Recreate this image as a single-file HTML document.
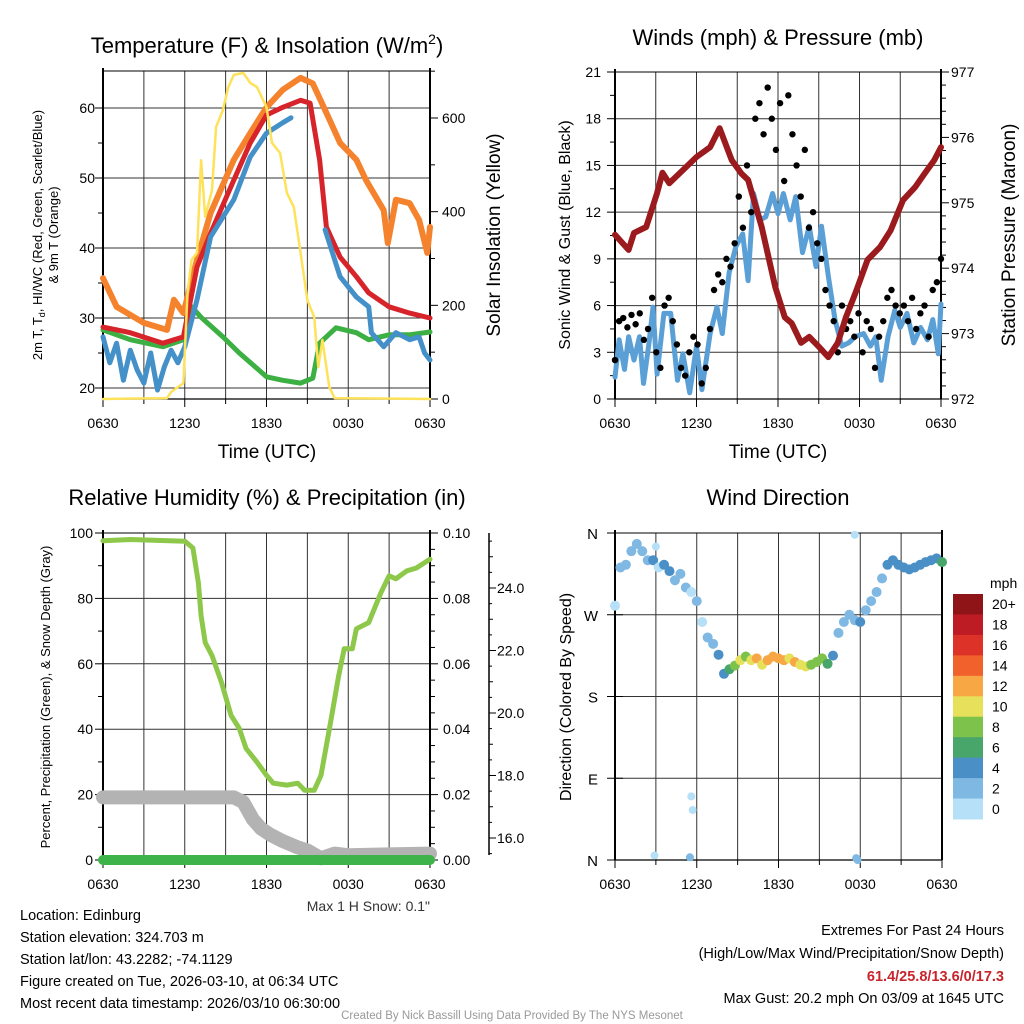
<!DOCTYPE html>
<html><head><meta charset="utf-8"><style>
html,body{margin:0;padding:0;background:#fff}
svg{display:block;font-family:"Liberation Sans",sans-serif}
</style></head><body>
<svg id="c" width="1024" height="1024" viewBox="0 0 1024 1024">
<rect width="1024" height="1024" fill="#fff"/>
<g font-size="22" text-anchor="middle" fill="#000">
<text x="267" y="53">Temperature (F) &amp; Insolation (W/m<tspan font-size="14" dy="-9">2</tspan><tspan dy="9">)</tspan></text>
<text x="778" y="45">Winds (mph) &amp; Pressure (mb)</text>
<text x="267" y="505">Relative Humidity (%) &amp; Precipitation (in)</text>
<text x="778" y="505">Wind Direction</text>
</g>
<g font-size="19" text-anchor="middle">
<text x="267" y="458">Time (UTC)</text>
<text x="778" y="458">Time (UTC)</text>
<text transform="translate(42,235) rotate(-90)" font-size="13">2m T, T<tspan font-size="9" dy="3">d</tspan><tspan dy="-3">, HI/WC (Red, Green, Scarlet/Blue)</tspan></text>
<text transform="translate(58,235) rotate(-90)" font-size="13">&amp; 9m T (Orange)</text>
<text transform="translate(500,235) rotate(-90)">Solar Insolation (Yellow)</text>
<text transform="translate(570,235) rotate(-90)" font-size="16">Sonic Wind &amp; Gust (Blue, Black)</text>
<text transform="translate(1015,235) rotate(-90)">Station Pressure (Maroon)</text>
<text transform="translate(50,697) rotate(-90)" font-size="13">Percent, Precipitation (Green), &amp; Snow Depth (Gray)</text>
<text transform="translate(571,697) rotate(-90)" font-size="16">Direction (Colored By Speed)</text>
</g>
<text x="430" y="911" font-size="14" text-anchor="end" fill="#333">Max 1 H Snow: 0.1"</text>
<g font-size="14.5">
<text x="20" y="920">Location: Edinburg</text>
<text x="20" y="942">Station elevation: 324.703 m</text>
<text x="20" y="964">Station lat/lon: 43.2282; -74.1129</text>
<text x="20" y="986">Figure created on Tue, 2026-03-10, at 06:34 UTC</text>
<text x="20" y="1008">Most recent data timestamp: 2026/03/10 06:30:00</text>
<g text-anchor="end">
<text x="1004" y="935">Extremes For Past 24 Hours</text>
<text x="1004" y="958">(High/Low/Max Wind/Precipitation/Snow Depth)</text>
<text x="1004" y="981" fill="#c8242b" font-weight="bold">61.4/25.8/13.6/0/17.3</text>
<text x="1004" y="1003">Max Gust: 20.2 mph On 03/09 at 1645 UTC</text>
</g></g>
<text x="512" y="1019" font-size="11.5" text-anchor="middle" fill="#999">Created By Nick Bassill Using Data Provided By The NYS Mesonet</text>
<g id="g"></g>
</svg>
<script>
// ---- Panel 1 data (hours since 0630) ----
const orangeT=[0,1,3,4.7,5.2,5.9,6.9,7.9,9.6,10.8,12,13.2,14.5,15.4,16.4,17.4,18.6,19.3,20.6,20.9,21.5,22.5,23.2,23.8,24];
const orangeV=[35.7,31.6,29.3,28.3,32.6,30.7,38.3,45,52.6,56.4,60.1,62.6,64.3,63.5,59.3,55,52.6,49.7,45.4,40.7,46.9,46.4,44,39.3,43];
const redT=[0,2,4.4,5.9,6.9,7.9,9.6,10.8,12,13.2,14.5,15.2,15.9,16.4,17.4,18.6,19.5,21,22.5,24];
const redV=[28.7,27.9,26.4,27.3,37.3,42.1,49.7,55,59,60.1,61.1,60.7,52.6,43,38.7,35.9,33.6,31.6,30.7,30];
const greenT=[0,2,4.4,5.9,6.5,7.2,8.8,10,12,13.2,14.5,15.4,15.9,17.1,18.6,19.5,21,22.5,24];
const greenV=[28.3,26.9,25.9,26.9,31.6,30.1,27.3,25,21.6,21.1,20.7,21.4,26.4,28.6,27.9,26.9,27.6,27.6,28];
const blueAT=[0,0.5,1,1.5,2,2.5,3,3.5,4,4.5,5,5.5,6,6.9,7.9,9.6,10.8,12,13.2,13.8];
const blueAV=[27.3,23.6,26.4,21.1,25.4,22.6,20.7,25,19.7,23,25.4,23.6,25.9,32.6,41.6,46.9,53,56.4,57.9,58.6];
const blueBT=[16.3,17.4,18.6,19.5,19.7,20.6,21.5,22.5,23.2,23.6,24];
const blueBV=[42.6,35.9,33,31.6,27.9,25.9,27.9,26.9,27.3,25,24];
const solarT=[0,4.7,5,5.9,6.2,6.5,6.9,7.2,7.5,8,8.3,8.8,9.2,9.6,10.3,10.8,11.3,12,12.4,13,13.5,14,14.5,15,15.5,15.8,16.1,16.6,17,24];
const solarV=[0,2,15,34,226,297,312,510,389,446,581,617,666,692,696,675,666,623,547,525,440,410,312,211,175,68,126,26,2,0];
// ---- Panel 2 data ----
const presT=[0,1,1.4,2.3,3.1,3.5,4,5,6,7,7.7,8.6,9.3,9.8,10.8,11.8,12.5,13,13.7,14.3,15,15.7,16.4,17,17.7,18.6,19.5,20.3,21.2,22.1,22.8,23.5,24];
const presV=[974.51,974.28,974.54,974.63,975.15,975.46,975.3,975.5,975.7,975.85,976.14,975.65,975.45,975.35,974.63,973.71,973.25,973.16,972.86,972.95,972.8,972.64,972.86,973.25,973.62,974.13,974.32,974.58,975.04,975.24,975.45,975.65,975.85];
const windT=[0,0.3,0.7,1,1.4,1.8,2.1,2.5,2.8,3.1,3.6,4.1,4.6,5,5.5,6,6.4,7,7.5,7.9,8.4,8.9,9.4,9.8,10.2,10.7,11.1,11.6,12,12.4,12.9,13.3,13.8,14.3,14.8,15.2,15.7,16.2,16.7,17.2,17.7,18.3,18.8,19.2,19.6,20.1,20.6,21,21.5,22,22.5,23,23.4,23.8,24];
const windV=[1.4,3.8,1.9,4,2.5,4,1,3.6,5.9,1.6,5.5,5.5,1.2,2.9,0.4,3.4,0.6,4.2,5.9,4.2,8.1,9.8,10.6,7.6,13.2,11.5,11.7,13.2,11.9,13.2,11.5,13,9.4,11.1,8.5,11.1,7.9,5.1,3.4,3.6,4,4.2,3.4,4,1.2,4,5.7,4.6,5.5,3.6,4.6,3.8,5.1,2.9,6.1];
const gustV=[2.5,5,5.2,4.6,5.4,4.8,5.5,3.8,4.5,6.5,3,2,6,6.5,5,3.5,2,1.5,3,4,3.5,1,2,4.5,7,8,7.5,9,8.5,10,13,11,15,12,18,19,17,20,18,16,19,14,19.5,17,15,13,16,11,12,10,9,7,6,5,3,6,4.5,5,4,5.5,3,5,4.5,2,4,5,6.5,7,6,5.5,6,5,6.5,4.5,5.5,6,4,7,7.5,9];
// ---- Panel 3 data ----
const rhT=[0,2,6,6.6,7,7.2,7.5,8,8.7,9.4,10,10.5,11.3,12,12.5,13.5,14.3,14.8,15.5,16,16.7,17.3,17.7,18.3,18.6,19.5,20.4,21,21.5,22.3,23,24];
const rhV=[97.6,98,97.5,95.4,84.7,74.7,66.5,62.5,54.3,44.2,40.2,34.1,29.9,25.9,23.5,22.9,23.5,21.3,21.3,25.9,42,56.4,64.6,64.6,70.7,72.6,81.7,86.9,86,88.4,89.3,92];
const snowT=[0,9.6,10.3,11,11.6,12.3,13.2,14.3,15,16,17,18,24];
const snowV=[17.3,17.3,17.15,16.6,16.3,16.1,15.9,15.7,15.6,15.35,15.5,15.45,15.5];
const precipT=[0,24];
const precipV=[0,0];
// ---- Panel 4 data ----
const dirV=[280,322,325,340,348,340,330,330,322,325,318,308,315,300,295,285,262,245,238,226,205,210,214,220,224,220,222,215,220,224,222,220,222,218,215,213,215,218,222,216,225,250,262,270,264,262,275,285,295,310,325,330,325,322,320,322,325,328,330,332,328];
const spdV=[1.4,3.5,2.5,3.5,2.5,2.5,3,5,1.8,4.5,5,3,2,2,1.5,2.5,1,3,3.5,5,4.5,7,9,10,9,11,12,11.5,12,13,12,13,11.5,12,10,10,9,8,8,7,5,3.5,3,3.5,3.5,4,3,3.5,3.5,2,5,4.5,5.5,5,4,4,4.5,4,5,4,6.5];
const outT=[2.9,3.0,5.5,5.6,5.7,17.7,17.8,17.6];
const outD=[5,345,3,70,55,2,0,358];
const outS=[1,1,3,1,1,3,3,1];
const cbLabels=['20+','18','16','14','12','10','8','6','4','2','0'];
const cbColors=['#8f1418','#bd1c24','#dd3228','#f0612c','#f7a844','#e7e05a','#7dc24a','#48a66a','#4a8fc6','#7fb8e3','#b5e0f7'];
const xLabels=['0630','1230','1830','0030','0630'];

const NS='http://www.w3.org/2000/svg';
const G=document.getElementById('g');
function mk(tag,a,p){const e=document.createElementNS(NS,tag);for(const k in a)e.setAttribute(k,a[k]);(p||G).appendChild(e);return e;}
function txt(x,y,s,anchor,size){const e=mk('text',{x:x,y:y,'text-anchor':anchor||'middle','font-size':size||14});e.textContent=s;return e;}
function poly(T,V,xf,yf,col,w,name){
  const pts=T.map((t,i)=>xf(t).toFixed(1)+','+yf(V[i]).toFixed(1)).join(' ');
  const e=mk('polyline',{points:pts,fill:'none',stroke:col,'stroke-width':w,'stroke-linejoin':'round','stroke-linecap':'round'});
  
  
  return e;
}
function frame(x0,x1,y0,y1,hLines,pref){
  const g=mk('g',{});
  
  
  for(let h=3;h<24;h+=3){const x=x0+h/24*(x1-x0);mk('line',{x1:x,x2:x,y1:y0,y2:y1,stroke:'#333','stroke-width':1},g);}
  hLines.forEach(y=>mk('line',{x1:x0,x2:x1,y1:y,y2:y,stroke:'#333','stroke-width':1},g));
  for(let h=0;h<=24;h+=3){const x=x0+h/24*(x1-x0);mk('line',{x1:x,x2:x,y1:y1,y2:y1+(h%6?5:8),stroke:'#000','stroke-width':1},g);}
  mk('line',{x1:x0,x2:x1,y1:y1,y2:y1,stroke:'#000','stroke-width':1.2},g);
  mk('line',{x1:x0,x2:x0,y1:y0-3,y2:y1,stroke:'#000','stroke-width':2},g);
  mk('line',{x1:x1,x2:x1,y1:y0-3,y2:y1,stroke:'#000','stroke-width':2},g);
  mk('line',{x1:x0,x2:x1,y1:y0,y2:y0,stroke:'#000','stroke-width':1},g);
  xLabels.forEach((s,i)=>{const e=txt(x0+i*6/24*(x1-x0),y1+29,s);
    
    });
}
// ===== Panel 1 =====
(function(){
 const x0=103,x1=430,y0=71,y1=399;
 const xT=h=>x0+h/24*(x1-x0), yL=v=>388-(v-20)*7, yR=w=>399-w*281/600;
 frame(x0,x1,y0,y1,[20,30,40,50,60].map(yL),'temp');
 for(let v=20;v<=60;v+=5){mk('line',{x1:x0-(v%10?5:8),x2:x0,y1:yL(v),y2:yL(v),stroke:'#000'});}
 for(let v=20;v<=60;v+=10){const e=txt(x0-8,yL(v)+5,String(v),'end');}
 for(let w=0;w<=700;w+=100){mk('line',{x1:x1,x2:x1+(w%200?5:8),y1:yR(w),y2:yR(w),stroke:'#000'});}
 for(let w=0;w<=600;w+=200){const e=txt(x1+12,yR(w)+5,String(w),'start');}
 poly(orangeT,orangeV,xT,yL,'#f5822d',6,'temp-9m-line');
 poly(greenT,greenV,xT,yL,'#3cb043',5,'dewpoint-line');
 poly(redT,redV,xT,yL,'#d7242a',5,'temp-2m-line');
 poly(blueAT,blueAV,xT,yL,'#4490c8',5,'windchill-line-a');
 poly(blueBT,blueBV,xT,yL,'#4490c8',5,'windchill-line-b');
 poly(solarT,solarV,xT,yR,'#fde25a',2.5,'insolation-line');
})();
// ===== Panel 2 =====
(function(){
 const x0=615,x1=941,y0=72,y1=399;
 const xT=h=>x0+h/24*(x1-x0), yL=v=>399-v*327/21, yR=p=>399-(p-972)*65.4;
 frame(x0,x1,y0,y1,[3,6,9,12,15,18].map(yL),'wind');
 for(let v=0;v<=21;v+=1.5){mk('line',{x1:x0-(v%3?5:8),x2:x0,y1:yL(v),y2:yL(v),stroke:'#000'});}
 for(let v=0;v<=21;v+=3){const e=txt(x0-14,yL(v)+5,String(v),'end');}
 for(let p=0;p<=25;p++){mk('line',{x1:x1,x2:x1+(p%5?5:8),y1:yR(972+p*0.2),y2:yR(972+p*0.2),stroke:'#000'});}
 for(let p=972;p<=977;p++){const e=txt(x1+10,yR(p)+5,String(p),'start');}
 poly(windT,windV,xT,yL,'#5a9fd6',5,'sonic-wind-line');
 const gg=mk('g',{});
 
 
 gustV.forEach((v,i)=>{const c=mk('circle',{cx:xT(i*24/(gustV.length-1)),cy:yL(v),r:3.2,fill:'#000'},gg);
  
  });
 poly(presT,presV,xT,yR,'#9b1a1d',6,'pressure-line');
})();
// ===== Panel 3 =====
(function(){
 const x0=103,x1=430,y0=533,y1=860;
 const xT=h=>x0+h/24*(x1-x0), yL=v=>860-v*3.27, yP=p=>860-p*3270, yS=s=>838-(s-16)*31.25;
 frame(x0,x1,y0,y1,[20,40,60,80].map(yL),'rh');
 for(let v=0;v<=100;v+=10){mk('line',{x1:x0-(v%20?5:8),x2:x0,y1:yL(v),y2:yL(v),stroke:'#000'});}
 for(let v=0;v<=100;v+=20){const e=txt(x0-10,yL(v)+5,String(v),'end');}
 for(let k=0;k<=20;k++){mk('line',{x1:x1,x2:x1+(k%4?5:8),y1:yP(k*0.005),y2:yP(k*0.005),stroke:'#000'});}
 for(let k=0;k<=5;k++){const e=txt(x1+13,yP(k*0.02)+5,(k*0.02).toFixed(2),'start');}
 const ax=mk('line',{x1:489,x2:489,y1:y0,y2:y1-5,stroke:'#000','stroke-width':1.5});
 
 
 for(let s=15.5;s<=26;s+=0.5){const y=yS(s);if(y<y0||y>y1-5)continue;mk('line',{x1:489,x2:489+(s%1?3:(s%2?4:7)),y1:y,y2:y,stroke:'#000'});}
 for(let s=16;s<=24;s+=2){const e=txt(497,yS(s)+5,s.toFixed(1),'start');}
 poly(snowT,snowV,xT,yS,'#b3b3b3',14,'snow-depth-line');
 poly(precipT,precipV,xT,yP,'#3db34a',10,'precip-line');
 poly(rhT,rhV,xT,yL,'#8dc84a',5,'rh-line');
})();
// ===== Panel 4 =====
(function(){
 const x0=615,x1=942,y0=533,y1=860;
 const xT=h=>x0+h/24*(x1-x0), yD=d=>860-d*327/360;
 frame(x0,x1,y0,y1,[90,180,270].map(yD),'dir');
 ['N','E','S','W','N'].forEach((s,i)=>{mk('line',{x1:x0-8,x2:x0+8,y1:yD(i*90),y2:yD(i*90),stroke:'#000'});
  const e=txt(598,yD(i*90)+6,s,'end',15);});
 const col=s=>cbColors[10-Math.min(10,Math.floor(s/2))];
 const gg=mk('g',{});
 
 
 dirV.forEach((d,i)=>{const c=mk('circle',{cx:xT(i*24/(dirV.length-1)),cy:yD(d),r:5,fill:col(spdV[i])},gg);
  
  });
 outT.forEach((t,i)=>{const c=mk('circle',{cx:xT(t),cy:yD(outD[i]),r:4,fill:col(outS[i])},gg);
  
  });
 const cb=mk('g',{});
 
 
 const h=225/11;
 cbColors.forEach((c,i)=>{mk('rect',{x:953,y:594+i*h,width:30,height:h+0.5,fill:c},cb);
  const e=txt(992,594+i*h+h/2+5,cbLabels[i],'start',14);
  
  });
 const u=txt(990,588,'mph','start',14);
 
 
})();
</script>
</body></html>
